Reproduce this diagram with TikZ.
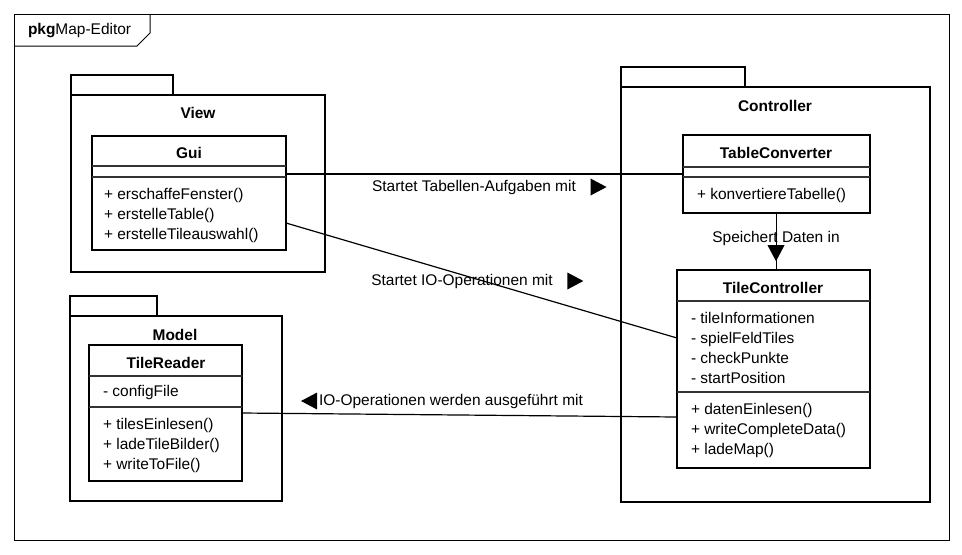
\documentclass[tikz,border=0pt]{standalone}
\usepackage{fontspec}
\setmainfont{Liberation Sans}
\usetikzlibrary{positioning,fit,shapes.geometric}

\begin{document}
\begin{tikzpicture}[x=0.75pt,y=-0.75pt,
    font=\fontsize{11.6}{15}\selectfont,
    every node/.style={inner sep=0pt,outer sep=0pt},
    thickbox/.style={draw,line width=2pt,fit={#1}},
    sepline/.style={black!80,line width=0.8pt},
    assoc/.style={line width=0.9pt},
    dirtri/.style={isosceles triangle,isosceles triangle apex angle=56,fill=black,minimum width=12pt,minimum height=12pt}]

    \useasboundingbox (0,0) rectangle (962,554);

    % frame
    \node[draw,line width=0.75pt,fit={(14,14) (949,540)}] (frame) {};
    \draw[line width=0.75pt] (14,46) -- (137,46) -- (150,33) -- (150,14);
    \node[anchor=west] (frameName) at (28,31) {\textbf{pkg}Map-Editor};

    % View
    \draw[line width=2pt] (71,75) rectangle (173,95);
    \node[thickbox={(71,95) (325,272)}] (view) {};
    \node (viewName) at (198,113) {\textbf{View}};
    \node[thickbox={(92,136) (286,250)}] (gui) {};
    \node (guiName) at (189,153) {\textbf{Gui}};
    \draw[sepline] (gui.west |- 0,166) -- (gui.east |- 0,166);
    \draw[sepline] (gui.west |- 0,177) -- (gui.east |- 0,177);
    \node[anchor=west,align=left] (guiOps) at (104,215.5) {+ erschaffeFenster()\\+ erstelleTable()\\+ erstelleTileauswahl()};

    % Model
    \draw[line width=2pt] (70,296) rectangle (157,316);
    \node[thickbox={(70,316) (282,501)}] (model) {};
    \node (modelName) at (175,335) {\textbf{Model}};
    \node[thickbox={(89,345) (242,481)}] (reader) {};
    \node (readerName) at (166,363) {\textbf{TileReader}};
    \draw[sepline] (reader.west |- 0,376) -- (reader.east |- 0,376);
    \node[anchor=west] (readerAttr) at (103,392) {- configFile};
    \draw[sepline] (reader.west |- 0,407) -- (reader.east |- 0,407);
    \node[anchor=west,align=left] (readerOps) at (103,445) {+ tilesEinlesen()\\+ ladeTileBilder()\\+ writeToFile()};

    % Controller
    \draw[line width=2pt] (621,67) rectangle (745,87);
    \node[thickbox={(621,87) (930,502)}] (ctrl) {};
    \node (ctrlName) at (775,106) {\textbf{Controller}};
    \node[thickbox={(683,135) (870,213)}] (conv) {};
    \node (convName) at (776,153) {\textbf{TableConverter}};
    \draw[sepline] (conv.west |- 0,167) -- (conv.east |- 0,167);
    \draw[sepline] (conv.west |- 0,177) -- (conv.east |- 0,177);
    \node[anchor=west] (convOps) at (697,195) {+ konvertiereTabelle()};
    \node[thickbox={(677,270) (870,468)}] (tiles) {};
    \node (tilesName) at (773,288) {\textbf{TileController}};
    \draw[sepline] (tiles.west |- 0,301) -- (tiles.east |- 0,301);
    \node[anchor=west,align=left] (tilesAttr) at (691,348) {- tileInformationen\\- spielFeldTiles\\- checkPunkte\\- startPosition};
    \draw[sepline] (tiles.west |- 0,392) -- (tiles.east |- 0,392);
    \node[anchor=west,align=left] (tilesOps) at (691,430) {+ datenEinlesen()\\+ writeCompleteData()\\+ ladeMap()};

    % associations
    \draw[assoc] (conv.west -| gui.east) -- (conv.west);
    \draw[assoc] ([yshift=-22.5pt]gui.east) -- ([yshift=23.25pt]tiles.west);
    \draw[assoc] (reader.east) -- ([yshift=-36pt]tiles.west);
    \draw[assoc] (conv.south) -- (conv.south |- tiles.north);

    \node (lblTable) at (474,187) {Startet Tabellen-Aufgaben mit};
    \node[dirtri,right=11pt of lblTable] (triTable) {};
    \node (lblIO) at (462,281) {Startet IO-Operationen mit};
    \node[dirtri,right=11pt of lblIO] (triIO) {};
    \node (lblStore) at (776,238) {Speichert Daten in};
    \node[dirtri,shape border rotate=270,below=0pt of lblStore] (triStore) {};
    \node (lblRead) at (451,401) {IO-Operationen werden ausgeführt mit};
    \node[dirtri,shape border rotate=180,left=1.5pt of lblRead] (triRead) {};
\end{tikzpicture}
\end{document}
